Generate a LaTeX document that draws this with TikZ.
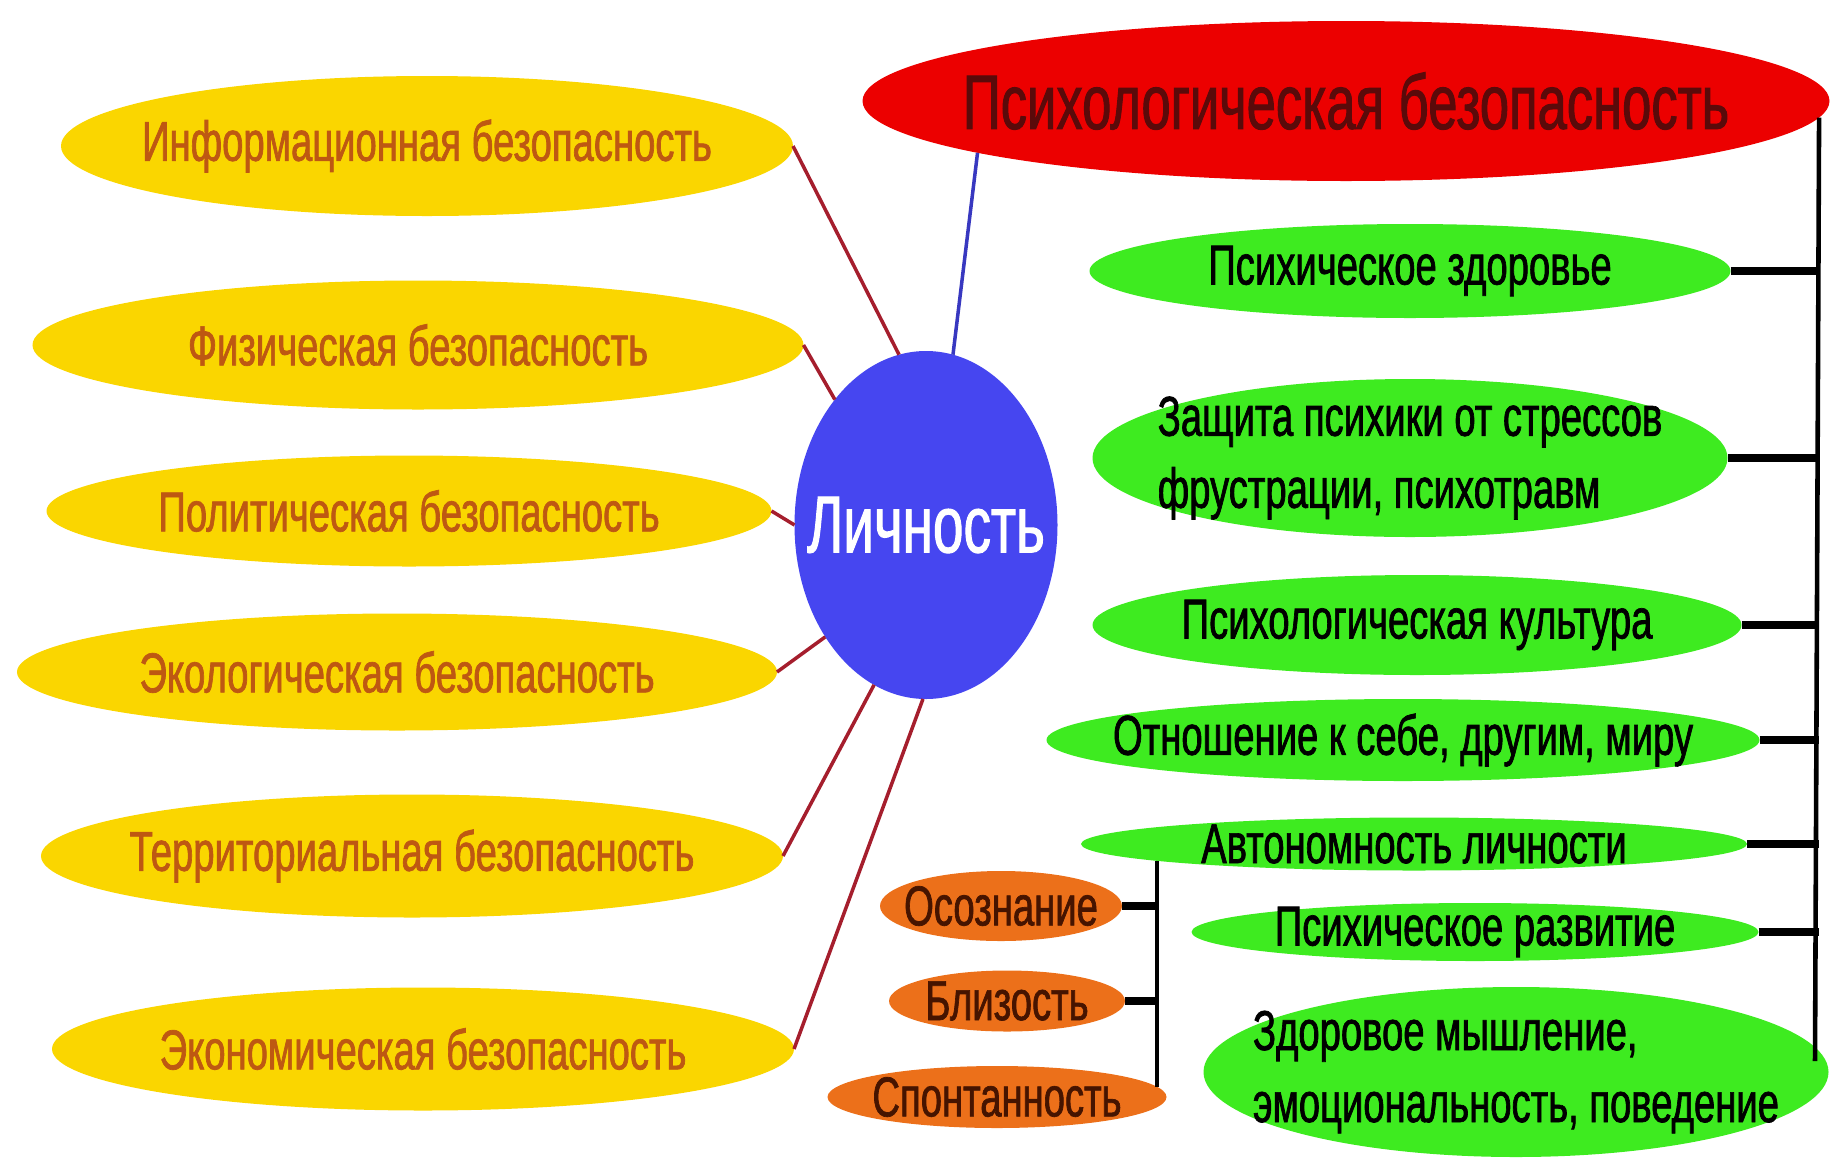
\documentclass[tikz,border=0pt]{standalone}
\usepackage{fontspec}
\setmainfont[FakeStretch=0.68,FakeBold=1.2]{Liberation Sans}
\usepackage{tikz}
\usetikzlibrary{shapes.geometric}
\usepackage{xcolor}
\definecolor{bezyellow}{RGB}{250,214,0}
\definecolor{bezbrown}{RGB}{190,88,18}
\definecolor{psygreen}{RGB}{62,235,32}
\definecolor{psyred}{RGB}{236,0,0}
\definecolor{psyredtext}{RGB}{90,10,10}
\definecolor{lichblue}{RGB}{70,70,240}
\definecolor{linkred}{RGB}{165,30,45}
\definecolor{bandorange}{RGB}{236,112,26}
\definecolor{bandtext}{RGB}{70,20,0}

\tikzset{
  blob/.style={ellipse,inner xsep=-1.2cm,inner ysep=-0.15cm,outer sep=0pt},
  ysafe/.style={blob,fill=bezyellow,text=bezbrown,font=\fontsize{16}{18}\selectfont},
  gpsy/.style={blob,fill=psygreen,text=black,align=left,font=\fontsize{16}{20.5}\selectfont},
  oband/.style={blob,fill=bandorange,text=bandtext,font=\fontsize{16}{18}\selectfont},
  redlink/.style={draw=linkred,line width=1pt},
  bus/.style={line width=1.3pt},
  stub/.style={line width=2.2pt}
}

\begin{document}
\begin{tikzpicture}
        \useasboundingbox (0,0) rectangle (18.33,-11.6);
        % left side
        \node[ysafe,minimum width=7.32cm,minimum height=1.40cm] (y1) at (4.27,-1.46) {Информационная безопасность};
        \node[ysafe,minimum width=7.71cm,minimum height=1.29cm] (y2) at (4.18,-3.45) {Физическая безопасность};
        \node[ysafe,minimum width=7.25cm,minimum height=1.11cm] (y3) at (4.09,-5.11) {Политическая безопасность};
        \node[ysafe,minimum width=7.60cm,minimum height=1.17cm] (y4) at (3.97,-6.72) {Экологическая безопасность};
        \node[ysafe,minimum width=7.42cm,minimum height=1.23cm] (y5) at (4.12,-8.56) {Территориальная безопасность};
        \node[ysafe,minimum width=7.42cm,minimum height=1.23cm] (y6) at (4.23,-10.49) {Экономическая безопасность};
        % centre and title
        \node[blob,inner xsep=-1cm,fill=lichblue,text=white,minimum width=2.63cm,minimum height=3.48cm,font=\fontsize{23}{26}\selectfont] (lich) at (9.26,-5.25) {Личность};
        \node[blob,fill=psyred,text=psyredtext,minimum width=9.67cm,minimum height=1.60cm,font=\fontsize{22}{26}\selectfont] (psy) at (13.46,-1.01) {Психологическая безопасность};
        % right side
        \node[gpsy,minimum width=6.41cm,minimum height=0.94cm] (g1) at (14.10,-2.71) {Психическое здоровье};
        \node[gpsy,minimum width=6.35cm,minimum height=1.58cm] (g2) at (14.10,-4.58) {Защита психики от стрессов\\фрустрации, психотравм};
        \node[gpsy,minimum width=6.49cm,minimum height=1.00cm] (g3) at (14.17,-6.25) {Психологическая культура};
        \node[gpsy,minimum width=7.13cm,minimum height=0.82cm] (g4) at (14.03,-7.40) {Отношение к себе, другим, миру};
        \node[gpsy,minimum width=6.66cm,minimum height=0.53cm] (g5) at (14.14,-8.44) {Автономность личности};
        \node[gpsy,minimum width=5.67cm,minimum height=0.58cm] (g6) at (14.75,-9.32) {Психическое развитие};
        \node[gpsy,minimum width=6.25cm,minimum height=1.70cm] (g7) at (15.16,-10.72) {Здоровое мышление,\\эмоциональность, поведение};
        \node[oband,minimum width=2.42cm,minimum height=0.70cm] (o1) at (10.01,-9.06) {Осознание};
        \node[oband,minimum width=2.36cm,minimum height=0.61cm] (o2) at (10.07,-10.01) {Близость};
        \node[oband,minimum width=3.39cm,minimum height=0.62cm] (o3) at (9.97,-10.97) {Спонтанность};

        \coordinate (rtop) at (psy.-2.4);
        \coordinate (rbot) at (18.15,-10.61);
        \coordinate (ltop) at (11.57,-8.61);
        \coordinate (lbot) at (11.57,-10.87);

        \draw[redlink] (y1.east) -- (lich.99);
        \draw[redlink] (y2.east) -- (lich.126);
        \draw[redlink] (y3.east) -- (lich.west);
        \draw[redlink] (y4.east) -- (lich.228);
        \draw[redlink] (y5.east) -- (lich.252);
        \draw[redlink] (y6.east) -- (lich.269);
        \draw[draw=lichblue!80!black,line width=1pt] (lich.81) -- (psy.188);

        \draw[bus] (rtop) -- (rbot);
        \foreach \g in {g1,g2,g3,g4,g5,g6}
          \draw[stub] (\g.east) -- (\g.east -| rtop);
        \draw[bus] (ltop) -- (lbot);
        \draw[stub] (o1.east) -- (o1.east -| ltop);
        \draw[stub] (o2.east) -- (o2.east -| ltop);
      \end{tikzpicture}
\end{document}
